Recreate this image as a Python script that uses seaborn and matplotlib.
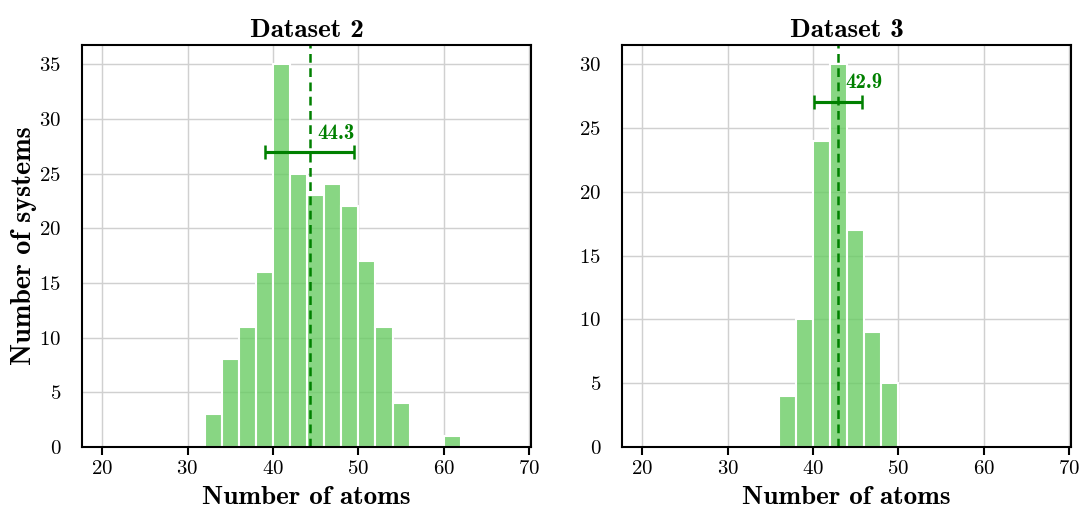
import numpy as np
import pandas as pd
import matplotlib
matplotlib.use("Agg")
import matplotlib.pyplot as plt
import seaborn as sns

# ---- data ----
titles = ["Dataset 2", "Dataset 3"]
edges_d2 = [32, 34, 36, 38, 40, 42, 44, 46, 48, 50, 52, 54, 56, 58, 60, 62]
counts_d2 = [3, 8, 11, 16, 35, 25, 23, 24, 22, 17, 11, 4, 0, 0, 1]
edges_d3 = [36, 38, 40, 42, 44, 46, 48, 50]
counts_d3 = [4, 10, 24, 30, 17, 9, 5]
means = [44.3, 42.9]
stds = [5.2, 2.8]
mean_labels = ["44.3", "42.9"]
xticks = [20, 30, 40, 50, 60, 70]

sns.set_theme(style="whitegrid")
plt.rcParams["font.family"] = ["cmr10", "DejaVu Serif"]
plt.rcParams["axes.formatter.use_mathtext"] = True
plt.rcParams["axes.unicode_minus"] = False
for k in ["text.color", "axes.labelcolor", "xtick.color", "ytick.color"]:
    plt.rcParams[k] = "black"

BOLD = ["cmb10", "DejaVu Serif"]

fig, axes = plt.subplots(1, 2, figsize=(1081 / 150, 508 / 150), dpi=150)
fig.subplots_adjust(left=82 / 1081, right=1071 / 1081, top=1 - 45 / 508,
                    bottom=1 - 447 / 508, wspace=0.203)

bar_color = sns.color_palette("muted")[2]
datasets = [(edges_d2, counts_d2), (edges_d3, counts_d3)]

for i, ax in enumerate(axes):
    edges, counts = datasets[i]
    centers = [(edges[k] + edges[k + 1]) / 2 for k in range(len(counts))]
    df = pd.DataFrame({"atoms": centers, "n": counts})
    sns.histplot(data=df, x="atoms", weights="n", bins=edges, ax=ax,
                 color=bar_color, alpha=0.8, edgecolor="white", linewidth=1.0)
    ax.axvline(means[i], color="green", linestyle="--", linewidth=1.2,
               dashes=(3.5, 2.2))
    ax.errorbar(means[i], 27, xerr=stds[i], color="green", capsize=3.4,
                elinewidth=1.5, capthick=1.2)
    ax.text(means[i] + 0.9, 27.8, mean_labels[i], color="green", fontsize=10,
            family=BOLD, ha="left", va="bottom")
    ax.set_xlim(17.65, 70.2)
    ax.set_xticks(xticks)
    ax.set_title(titles[i], family=BOLD, fontsize=13, pad=4)
    ax.set_xlabel("Number of atoms", family=BOLD, fontsize=13, labelpad=4)
    if i == 0:
        ax.set_ylabel("Number of systems", family=BOLD, fontsize=13.5, labelpad=1)
    else:
        ax.set_ylabel("")
    for s in ax.spines.values():
        s.set_color("black")
        s.set_linewidth(1.0)
    ax.grid(True, color="#d0d0d0", linewidth=0.7)
    ax.tick_params(axis="x", bottom=True, length=4, width=1.0, color="black",
                   labelsize=10, pad=2)
    ax.tick_params(axis="y", left=False, labelsize=10, pad=4)

fig.savefig("out.png", dpi=150)
